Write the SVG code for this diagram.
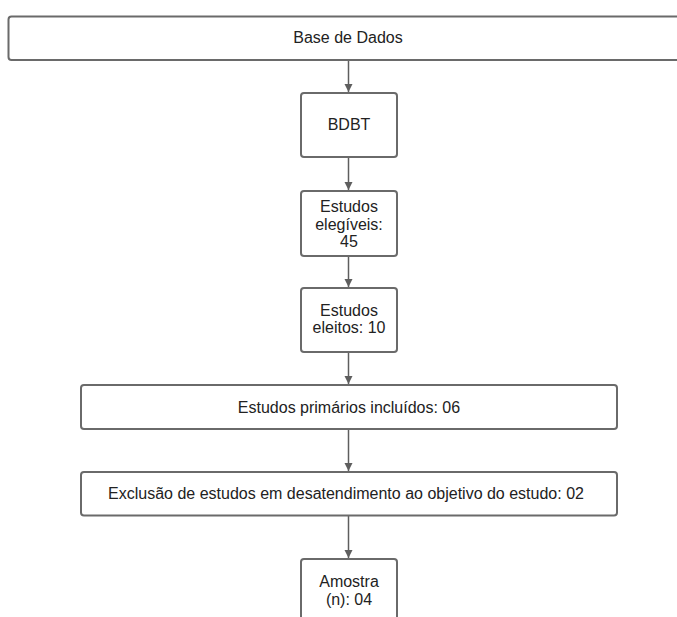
<svg xmlns="http://www.w3.org/2000/svg" width="677" height="617" viewBox="0 0 677 617">
<defs>
<style>
.box{fill:#ffffff;stroke:#6a6a6a;stroke-width:2}
.t{font-family:"Liberation Sans",Arial,sans-serif;font-size:16px;fill:#222222;text-anchor:middle}
.c{stroke:#5e5e5e;stroke-width:1.5;fill:none}
</style>
<marker id="ah" viewBox="0 0 10 10" refX="10" refY="5" markerWidth="5.5" markerHeight="5.5" orient="auto" markerUnits="strokeWidth">
<path d="M0,0 L10,5 L0,10 Z" fill="#5e5e5e"/>
</marker>
</defs>
<rect width="677" height="617" fill="#ffffff"/>
<g id="connectors">
<line class="c" x1="348.5" y1="61" x2="348.5" y2="92" marker-end="url(#ah)"/>
<line class="c" x1="348.5" y1="157" x2="348.5" y2="190" marker-end="url(#ah)"/>
<line class="c" x1="348.5" y1="256" x2="348.5" y2="287" marker-end="url(#ah)"/>
<line class="c" x1="348.5" y1="352" x2="348.5" y2="384" marker-end="url(#ah)"/>
<line class="c" x1="348.5" y1="429" x2="348.5" y2="471" marker-end="url(#ah)"/>
<line class="c" x1="348.5" y1="516" x2="348.5" y2="558" marker-end="url(#ah)"/>
</g>
<g id="base-dados">
<rect class="box" x="8.5" y="16.5" width="672" height="43.5" rx="3"/>
<text class="t" x="348" y="43">Base de Dados</text>
</g>
<g id="bdbt">
<rect class="box" x="301" y="93" width="96" height="64" rx="3"/>
<text class="t" x="349" y="130">BDBT</text>
</g>
<g id="elegiveis">
<rect class="box" x="301" y="191" width="96" height="65" rx="3"/>
<text class="t" x="349" y="212">Estudos</text>
<text class="t" x="349" y="229.5">elegíveis:</text>
<text class="t" x="349" y="247">45</text>
</g>
<g id="eleitos">
<rect class="box" x="301" y="288" width="96" height="64" rx="3"/>
<text class="t" x="349" y="316">Estudos</text>
<text class="t" x="349" y="333">eleitos: 10</text>
</g>
<g id="primarios">
<rect class="box" x="81" y="385" width="536" height="44" rx="3"/>
<text class="t" x="349" y="413">Estudos primários incluídos: 06</text>
</g>
<g id="exclusao">
<rect class="box" x="81" y="472" width="536" height="43.5" rx="3"/>
<text class="t" x="346" y="499">Exclusão de estudos em desatendimento ao objetivo do estudo: 02</text>
</g>
<g id="amostra">
<rect class="box" x="301" y="559" width="96" height="70" rx="3"/>
<text class="t" x="349" y="587">Amostra</text>
<text class="t" x="349" y="605">(n): 04</text>
</g>
</svg>
